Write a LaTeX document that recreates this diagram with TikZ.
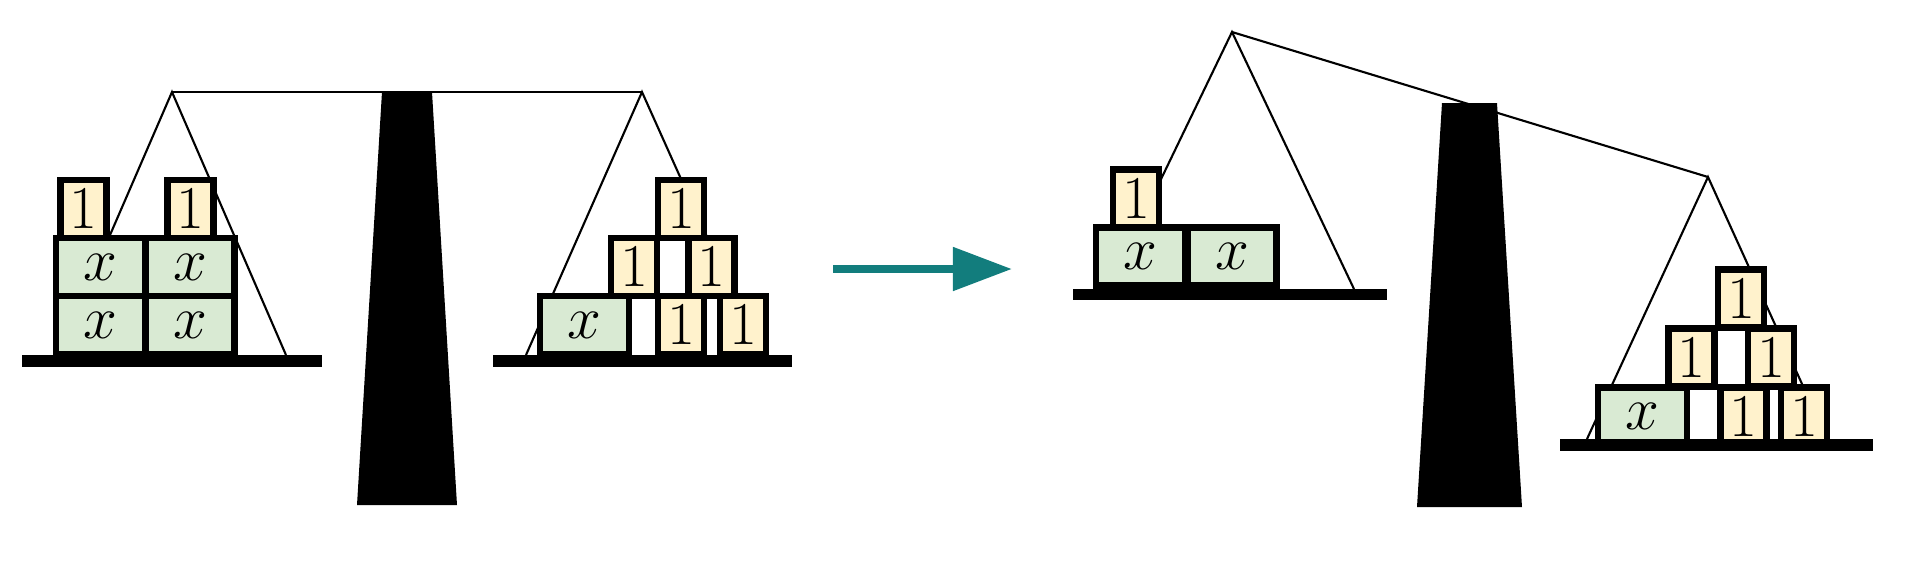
\documentclass[tikz,border=0pt]{standalone}
\usepackage{amsmath}
\usepackage{tikz}
\usetikzlibrary{arrows.meta}
\usetikzlibrary{positioning}

\definecolor{xgreen}{HTML}{D9EAD3}
\definecolor{oneyellow}{HTML}{FFF2CC}
\definecolor{arrowteal}{RGB}{18,125,125}

\tikzset{
  weight/.style={draw, line width=1.8pt, inner sep=0pt, minimum height=0.58cm,
    font=\fontsize{16}{18}\selectfont},
  xweight/.style={weight, fill=xgreen, minimum width=0.89cm},
  oneweight/.style={weight, fill=oneyellow, minimum width=0.46cm},
  string/.style={line width=0.6pt},
  panbar/.style={line width=3.4pt},
}

\begin{document}
\begin{tikzpicture}[x=0.01cm, y=-0.01cm]
  \useasboundingbox (0, 0) rectangle (1920, 587);

  % balanced scale
  \coordinate (pivA) at (172, 92);
  \coordinate (pivB) at (642, 92);
  \coordinate (panAl) at (58, 355);  \coordinate (panAr) at (286, 355);
  \coordinate (panBl) at (526, 355); \coordinate (panBr) at (760, 355);
  \draw[string] (panAl) -- (pivA) -- (panAr);
  \draw[string] (panBl) -- (pivB) -- (panBr);

  \foreach \n/\px/\py in {a/100.5/267, b/190/267, c/100.5/325, d/190/325, e/584.5/325}
    \node[xweight] (x\n) at (\px, \py) {$x$};
  \foreach \n/\px/\py in {a/83.5/209, b/190.5/209, c/681/325, d/743/325, e/634/267, f/711.5/267, g/681/209}
    \node[oneweight] (one\n) at (\px, \py) {$1$};

  \draw[panbar] (22, 361) -- (322, 361);
  \draw[panbar] (493, 361) -- (792, 361);
  \fill (382, 92) -- (432, 92) -- (457, 505) -- (357, 505) -- cycle;
  \draw[string] (pivA) -- (pivB);

  \draw[arrowteal, line width=2.3pt, -{Triangle[length=0.59cm, width=0.42cm]}] (833, 269) -- (1012, 269);

  % tipped scale
  \coordinate (pivC) at (1232, 32);
  \coordinate (pivD) at (1708, 177);
  \coordinate (panCl) at (1108, 289); \coordinate (panCr) at (1354, 289);
  \coordinate (panDl) at (1587, 439); \coordinate (panDr) at (1827, 439);
  \draw[string] (panCl) -- (pivC) -- (panCr);
  \draw[string] (panDl) -- (pivD) -- (panDr);

  \foreach \n/\px/\py in {f/1140.5/256.5, g/1232/256.5, h/1642.5/416.5}
    \node[xweight] (x\n) at (\px, \py) {$x$};
  \foreach \n/\px/\py in {h/1136/198.5, i/1743.5/416.5, j/1804/416.5, k/1691.5/357.5, l/1771/357.5, m/1741/298.5}
    \node[oneweight] (one\n) at (\px, \py) {$1$};

  \draw[panbar] (1073, 294.5) -- (1387, 294.5);
  \draw[panbar] (1560, 445) -- (1873, 445);
  \fill (1442, 103) -- (1497, 103) -- (1522, 507) -- (1417, 507) -- cycle;
  \draw[string] (pivC) -- (pivD);
\end{tikzpicture}
\end{document}
